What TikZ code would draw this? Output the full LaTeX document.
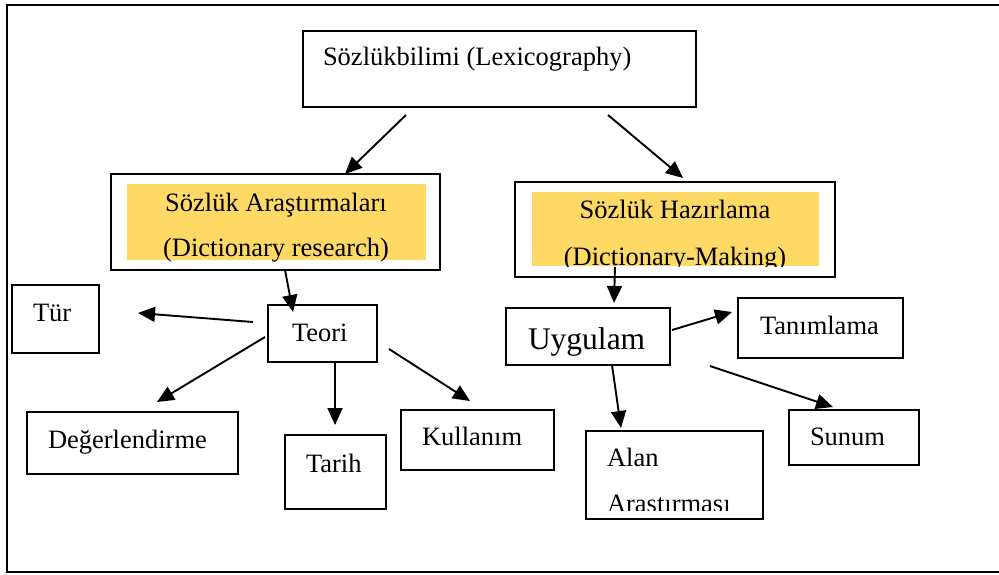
\documentclass[tikz,border=0pt]{standalone}
\usepackage{fontspec}
\setmainfont{Liberation Serif}
\usetikzlibrary{arrows.meta}
\definecolor{goldy}{RGB}{255,217,102}
\tikzset{
  box/.style={draw=black, line width=1.8pt, inner sep=0pt, outer sep=0pt, fill=white},
  fillbox/.style={fill=goldy, draw=none, inner sep=0pt, outer sep=0pt},
  lbl/.style={inner sep=0pt, outer sep=0pt, font=\fontsize{26.5}{32}\selectfont},
  biglbl/.style={inner sep=0pt, outer sep=0pt, font=\fontsize{31.5}{36}\selectfont},
  arr/.style={draw=black, line width=1.9pt, -{Triangle[length=17pt,width=15pt]}}
}
\begin{document}
\begin{tikzpicture}[x=1pt,y=-1pt]
\useasboundingbox (0,0) rectangle (999,574);
\clip (0,0) rectangle (999,574);
\fill[white] (0,0) rectangle (999,574);
\draw[line width=2.4pt] (7,5) rectangle (1012,572);

% boxes
\node[box, minimum width=393pt, minimum height=76pt] (top) at (499.5,69) {};
\node[box, minimum width=329pt, minimum height=96pt] (research) at (275.5,222) {};
\node[fillbox, minimum width=299pt, minimum height=76pt] (researchfill) at (276.5,222) {};
\node[box, minimum width=320pt, minimum height=95pt] (making) at (675,229.5) {};
\node[fillbox, minimum width=287pt, minimum height=74pt] (makingfill) at (675.5,229) {};
\node[box, minimum width=109pt, minimum height=57pt] (teori) at (322.5,333.5) {};
\node[box, minimum width=87pt, minimum height=68pt] (tur) at (55.5,319) {};
\node[box, minimum width=211pt, minimum height=62pt] (deger) at (132.5,443) {};
\node[box, minimum width=101pt, minimum height=74pt] (tarih) at (335.5,472) {};
\node[box, minimum width=153pt, minimum height=60pt] (kullanim) at (477.5,440) {};
\node[box, minimum width=164pt, minimum height=57pt] (uygulam) at (588,336.5) {};
\node[box, minimum width=165pt, minimum height=60pt] (tanim) at (820.5,328) {};
\node[box, minimum width=130pt, minimum height=55pt] (sunum) at (854,437.5) {};
\node[box, minimum width=177pt, minimum height=88pt] (alan) at (674.5,475) {};

% texts
\node[lbl, anchor=base west] (topT) at (323,65) {Sözlükbilimi (Lexicography)};
\node[lbl, anchor=base] (researchT1) at (276,211) {Sözlük Araştırmaları};
\node[lbl, anchor=base] (researchT2) at (276,256) {(Dictionary research)};
\node[lbl, anchor=base] (makingT1) at (675,218) {Sözlük Hazırlama};
\begin{scope}
\clip (532,192) rectangle (819,266);
\node[lbl, anchor=base] (makingT2) at (675,265) {(Dictionary-Making)};
\end{scope}
\node[lbl, anchor=base west] (teoriT) at (292,341) {Teori};
\node[lbl, anchor=base west] (turT) at (33,321) {Tür};
\node[lbl, anchor=base west] (degerT) at (48,448) {Değerlendirme};
\node[lbl, anchor=base west] (tarihT) at (306,472) {Tarih};
\node[lbl, anchor=base west] (kullanimT) at (422,445) {Kullanım};
\node[biglbl, anchor=base west] (uygulamT) at (528,349) {Uygulam};
\node[lbl, anchor=base west] (tanimT) at (760,334) {Tanımlama};
\node[lbl, anchor=base west] (sunumT) at (810,445) {Sunum};
\node[lbl, anchor=base west] (alanT1) at (607,466) {Alan};
\begin{scope}
\clip (586,431) rectangle (763,510);
\node[lbl, anchor=base west] (alanT2) at (607,512) {Araştırması};
\end{scope}

% connector end points
\coordinate (a1s) at (406,115); \coordinate (a1e) at (345,174);
\coordinate (a2s) at (608,115); \coordinate (a2e) at (683,178);
\coordinate (a3s) at (285,270); \coordinate (a3e) at (293,312);
\coordinate (a4s) at (253,322); \coordinate (a4e) at (138,313);
\coordinate (a5s) at (265,337); \coordinate (a5e) at (157,402);
\coordinate (a6s) at (335,362); \coordinate (a6e) at (335,425);
\coordinate (a7s) at (389,349); \coordinate (a7e) at (470,401);
\coordinate (a8s) at (615,267); \coordinate (a8e) at (614,303);
\coordinate (a9s) at (672,330); \coordinate (a9e) at (732,312);
\coordinate (a10s) at (612,365); \coordinate (a10e) at (621,428);
\coordinate (a11s) at (710,366); \coordinate (a11e) at (833,407);

\draw[arr] (a1s) -- (a1e);
\draw[arr] (a2s) -- (a2e);
\draw[arr] (a3s) -- (a3e);
\draw[arr] (a4s) -- (a4e);
\draw[arr] (a5s) -- (a5e);
\draw[arr] (a6s) -- (a6e);
\draw[arr] (a7s) -- (a7e);
\draw[arr] (a8s) -- (a8e);
\draw[arr] (a9s) -- (a9e);
\draw[arr] (a10s) -- (a10e);
\draw[arr] (a11s) -- (a11e);
\end{tikzpicture}
\end{document}
